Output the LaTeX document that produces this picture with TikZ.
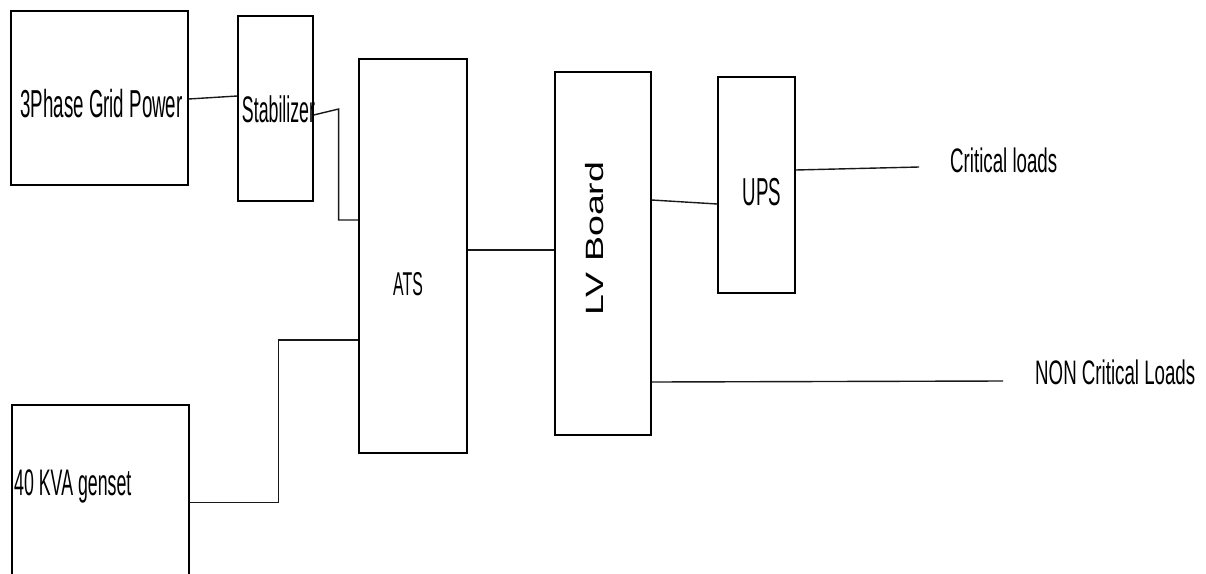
\documentclass[tikz,border=0pt]{standalone}
\usepackage{fontspec}
\setmainfont{Liberation Sans}
\newfontfamily\boxfont{Liberation Sans}[FakeStretch=0.48]
\newfontfamily\loadfont{Liberation Sans}[FakeStretch=0.55]
\newfontfamily\lvfont{Liberation Sans}[FakeStretch=1.5]
\usetikzlibrary{positioning}
\tikzset{
  unitbox/.style={draw=black,line width=1.3pt,inner sep=0pt,fill=none},
  boxtxt/.style={inner sep=0pt,font=\boxfont\fontsize{#1}{#1}\selectfont},
  loadtxt/.style={inner sep=0pt,font=\loadfont\fontsize{#1}{#1}\selectfont},
  wire/.style={draw=black!90,line width=1.4pt}
}

\begin{document}
\begin{tikzpicture}[x=1pt,y=-1pt]
  \useasboundingbox (0,0) rectangle (1206,573);
  \clip (0,0) rectangle (1206,573);
  \fill[white] (0,0) rectangle (1206,573);
  % blocks
  \foreach \n/\x/\y/\w/\h in {grid/99.5/98/177/174, stab/275.5/108.5/75/185,
      ats/413/256/108/394, lv/603/253.5/96/363, ups/756.5/185/77/216,
      gen/100.5/502.5/177/195} {
    \node[unitbox,minimum width=\w pt,minimum height=\h pt] (\n) at (\x,\y) {};
  }
  % block texts
  \node[boxtxt=39,anchor=base] (gridtxt) at (101.5,117) {3Phase Grid Power};
  \node[boxtxt=37,anchor=base] (stabtxt) at (278.5,122) {Stabilizer};
  \node[boxtxt=33,anchor=base] (atstxt) at (408,295) {ATS};
  \node[boxtxt=39,anchor=base] (upstxt) at (762,205) {UPS};
  \node[boxtxt=37,anchor=base west] (gentxt) at (14,495) {40 KVA genset};
  \node[inner sep=0pt,font=\lvfont\fontsize{25}{25}\selectfont,rotate=90,anchor=base]
    (lvtxt) at (603,238.5) {LV Board};
  % loads
  \node[loadtxt=34,anchor=base west] (crit) at (950,172) {Critical loads};
  \node[loadtxt=34,anchor=base west] (noncrit) at (1035,384) {NON Critical Loads};
  \coordinate (critend) at (919,167);
  \coordinate (nonend) at (1003,381);
  % wiring
  \draw[wire] ([yshift=-1pt]grid.east) -- ([yshift=12.5pt]stab.west);
  \draw[wire] ([yshift=-6.5pt]stab.east) -- ++(25pt,6pt) |- ([yshift=36pt]ats.west);
  \draw[wire] (gen.east) -- ++(89pt,0pt) |- ([yshift=-84pt]ats.west);
  \draw[wire] ([yshift=6pt]ats.east) -- ([yshift=6pt]ats.east -| lv.west);
  \draw[wire] ([yshift=53.5pt]lv.east) -- ([yshift=-19pt]ups.west);
  \draw[wire] ([yshift=15pt]ups.east) -- (critend);
  \draw[wire] ([yshift=-128.5pt]lv.east) -- (nonend);
\end{tikzpicture}
\end{document}
